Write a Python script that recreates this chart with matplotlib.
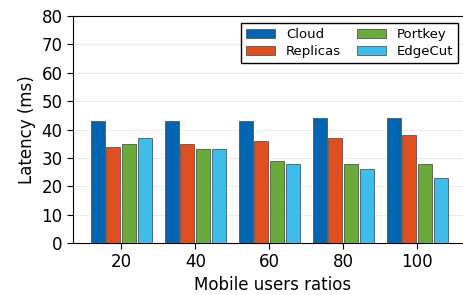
import numpy as np
import matplotlib
matplotlib.use("Agg")
import matplotlib.pyplot as plt

ratios = ["20", "40", "60", "80", "100"]
series = ["Cloud", "Replicas", "Portkey", "EdgeCut"]
cloud = [43, 43, 43, 44, 44]
replicas = [34, 35, 36, 37, 38]
portkey = [35, 33, 29, 28, 28]
edgecut = [37, 33, 28, 26, 23]
colors = ["#0066b3", "#e04f20", "#6aaa3c", "#3fbdea"]

fig = plt.figure(figsize=(4.63, 2.95), dpi=100)
# right spine sits just past the image edge, like the original crop
ax = fig.add_axes([0.158, 0.176, 0.86, 0.77])

x = np.arange(len(ratios))
width = 0.19
step = 0.212
for i, (name, vals) in enumerate(zip(series, [cloud, replicas, portkey, edgecut])):
    ax.bar(x + (i - 1.5) * step, vals, width, color=colors[i], label=name,
           edgecolor="#555555", linewidth=0.6, zorder=3)

ax.set_xticks(x)
ax.set_xticklabels(ratios)
ax.set_xlim(-0.65, 4.73)
ax.set_ylim(0, 80)
ax.set_yticks(range(0, 81, 10))
ax.yaxis.grid(True, color="#e6e6e6", linewidth=0.6, zorder=0)
ax.tick_params(labelsize=12, length=4)
ax.set_xlabel("Mobile users ratios", fontsize=12, labelpad=3)
ax.set_ylabel("Latency (ms)", fontsize=12)

# legend box: right edge ~x=458px, top ~y=23px in the original
leg_x = (458 - 73) / (0.86 * 463)
ax.legend(ncol=2, loc="upper right", fontsize=9.5, fancybox=False,
          edgecolor="black", framealpha=1, columnspacing=1.2,
          handlelength=2.2, borderpad=0.4, labelspacing=0.3,
          borderaxespad=0, bbox_to_anchor=(leg_x, 0.969))

fig.savefig("out.png", dpi=100)
